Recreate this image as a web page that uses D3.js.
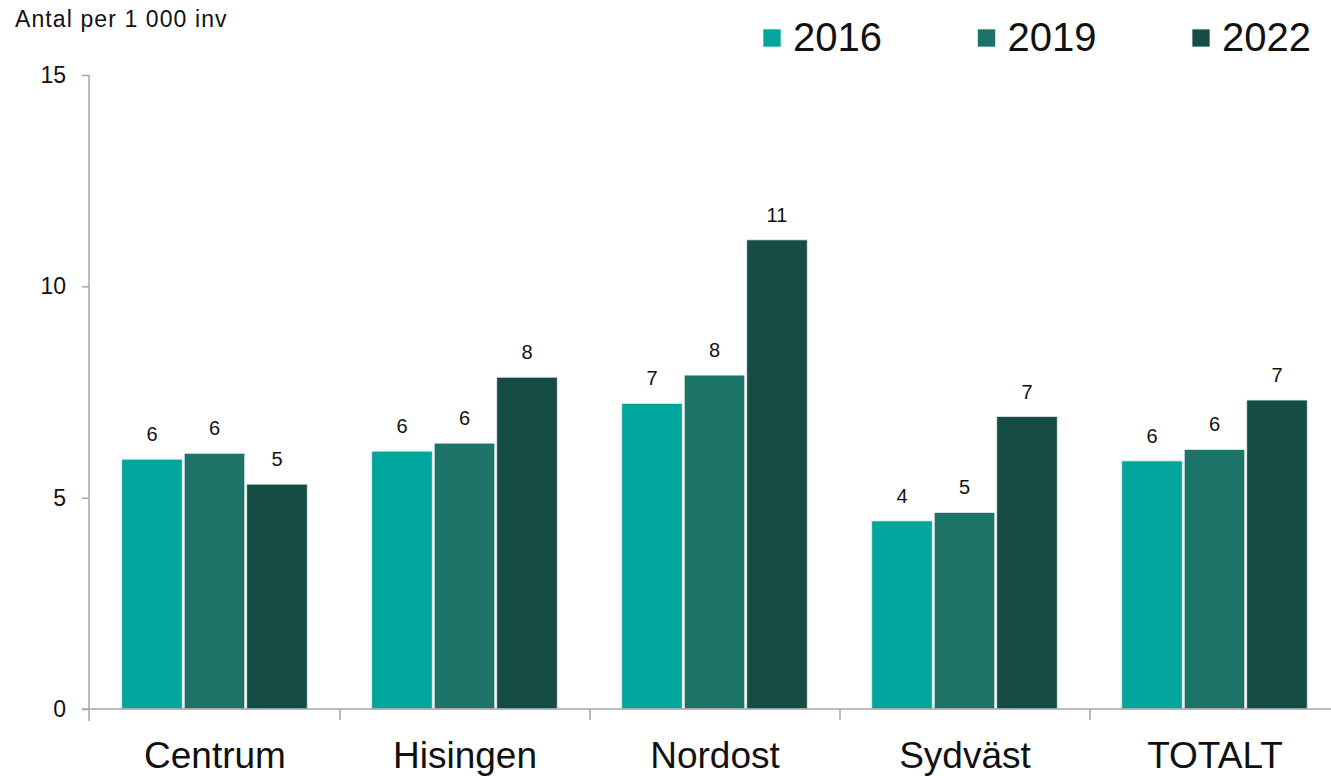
<!DOCTYPE html>
<html><head><meta charset="utf-8">
<script src="https://cdn.jsdelivr.net/npm/d3@7"></script>
<style>
html,body{margin:0;padding:0;background:#fff;}
svg{display:block;font-family:"Liberation Sans",Arial,sans-serif;}
</style></head>
<body>
<svg id="c" width="1331" height="776"></svg>
<script>
const categories = ["Centrum","Hisingen","Nordost","Sydväst","TOTALT"];
const seriesNames = ["2016","2019","2022"];
const values2016 = [5.91, 6.10, 7.23, 4.45, 5.87];
const values2019 = [6.05, 6.29, 7.90, 4.65, 6.14];
const values2022 = [5.32, 7.85, 11.10, 6.92, 7.31];
const yTicks = [0, 5, 10, 15];
const colors = ["#00a59b", "#1b7467", "#154d45"];
const yTitle = "Antal per 1 000 inv";

const seriesValues = [values2016, values2019, values2022];
const svg = d3.select("#c");

const x = d3.scaleBand().domain(categories).range([90, 1340]).paddingInner(0).paddingOuter(0);
const xi = d3.scaleBand().domain(seriesNames).range([x.bandwidth()*0.125, x.bandwidth()*0.875]);
const y = d3.scaleLinear().domain([0, 15]).range([709, 75]);
const axisColor = "#a6a6a6";

// bars
const groups = svg.append("g").selectAll("g").data(categories).join("g")
  .attr("transform", d => `translate(${x(d)},0)`);
groups.each(function(cat, ci){
  const g = d3.select(this);
  seriesNames.forEach((s, si) => {
    const v = seriesValues[si][ci];
    g.append("rect")
      .attr("x", xi(s) + 0.5)
      .attr("width", xi.bandwidth() - 2)
      .attr("y", y(v))
      .attr("height", y(0) - y(v))
      .attr("fill", colors[si])
      .attr("stroke", "#e6ecea")
      .attr("stroke-width", 0.8);
    g.append("text")
      .attr("x", xi(s) + xi.bandwidth()/2 - 0.5)
      .attr("y", y(v) - 18)
      .attr("text-anchor", "middle")
      .attr("font-size", 20)
      .attr("fill", "#111")
      .text(Math.round(v));
  });
});

// y axis
const yAxis = d3.axisLeft(y).tickValues(yTicks).tickSize(7).tickPadding(16).tickSizeOuter(0);
const gy = svg.append("g").attr("transform", "translate(89,0)").call(yAxis);
gy.select(".domain").remove();
gy.append("line").attr("x1",0).attr("x2",0).attr("y1",75).attr("y2",721).attr("stroke",axisColor).attr("stroke-width",1.5);
gy.selectAll(".tick line").attr("stroke", axisColor).attr("stroke-width",1.5);
gy.selectAll(".tick text").attr("font-size", 23).attr("fill","#111").attr("font-family","Liberation Sans, Arial, sans-serif");

// x axis
const xAxis = d3.axisBottom(x).tickSize(0).tickPadding(33);
const gx = svg.append("g").attr("transform", "translate(0,709)").call(xAxis);
gx.select(".domain").remove();
gx.append("line").attr("x1",82).attr("x2",1331).attr("y1",0).attr("y2",0).attr("stroke",axisColor).attr("stroke-width",1.5);
gx.selectAll(".tick text").attr("font-size", 37).attr("fill","#111").attr("font-family","Liberation Sans, Arial, sans-serif");
// category separators
gx.selectAll(".sep").data(categories.slice(1)).join("line").attr("class","sep")
  .attr("x1", d => x(d)).attr("x2", d => x(d)).attr("y1", 0).attr("y2", 11)
  .attr("stroke", axisColor).attr("stroke-width",1.5);

// title
svg.append("text").attr("x", 15).attr("y", 27).attr("font-size", 23).attr("letter-spacing", 1.1)
  .attr("fill","#111").text(yTitle);

// legend
const legendX = [763, 977.5, 1192];
const lg = svg.append("g").selectAll("g").data(seriesNames).join("g")
  .attr("transform", (d,i) => `translate(${legendX[i]},0)`);
lg.append("rect").attr("x",0).attr("y",29).attr("width",18).attr("height",18)
  .attr("fill", (d,i) => colors[i]).attr("stroke","#e6ecea").attr("stroke-width",0.8);
lg.append("text").attr("x",30).attr("y",51).attr("font-size",40).attr("fill","#111").text(d => d);
</script>
</body></html>
